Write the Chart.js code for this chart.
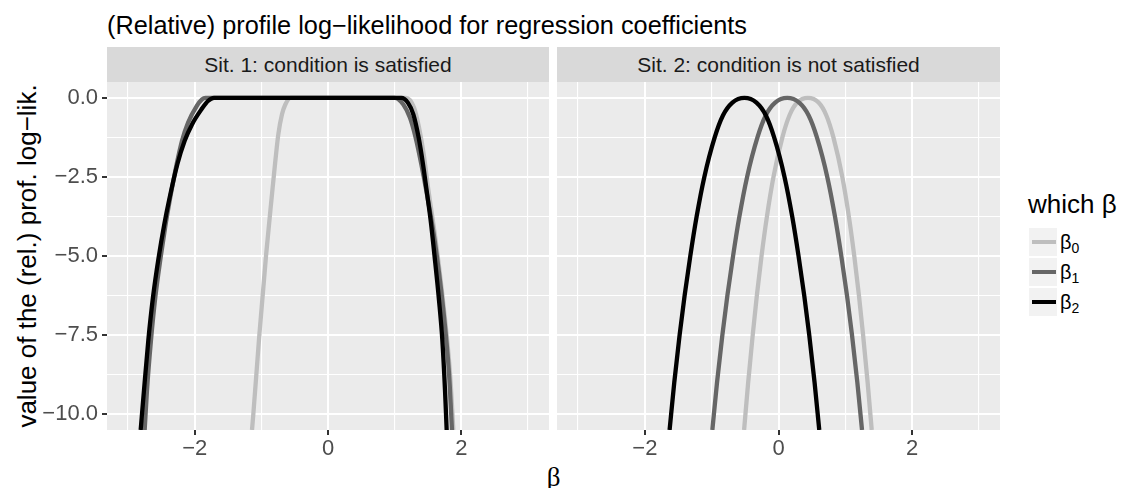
<!DOCTYPE html>
<html><head><meta charset="utf-8">
<script src="https://cdn.jsdelivr.net/npm/chart.js@4.4.0/dist/chart.umd.min.js"></script>
<style>
html,body{margin:0;padding:0;background:#fff;width:1121px;height:488px;overflow:hidden;font-family:"Liberation Sans",Arial,sans-serif;}
.abs{position:absolute;}
#title{left:107px;top:13px;font-size:25.3px;line-height:25px;color:#000;white-space:nowrap;}
.strip{background:#D9D9D9;color:#1A1A1A;font-size:21px;height:35px;line-height:35px;text-align:center;top:47px;white-space:nowrap;}
#ytitle{left:-183.5px;top:243px;width:420px;height:26px;line-height:26px;font-size:26px;text-align:center;transform:rotate(-90deg);white-space:nowrap;color:#000;}
#xtitle{left:353.5px;top:464px;width:400px;height:26px;line-height:26px;font-size:27px;text-align:center;font-family:"Liberation Serif","DejaVu Serif",serif;color:#000;}
#legtitle{left:1028px;top:191px;font-size:26px;line-height:26px;white-space:nowrap;color:#000;}
.key{left:1029px;width:28px;height:28px;background:#F2F2F2;}
.key div{position:absolute;left:3px;top:12px;width:24px;height:4px;}
.klab{left:1060px;height:28px;line-height:28px;font-size:20px;color:#000;white-space:nowrap;}
.klab sub{font-size:14px;vertical-align:-4px;line-height:0;}
canvas{position:absolute;}
</style></head>
<body>
<div id="title" class="abs">(Relative) profile log−likelihood for regression coefficients</div>
<div class="abs strip" style="left:107px;width:442px;">Sit. 1: condition is satisfied</div>
<div class="abs strip" style="left:557px;width:443px;">Sit. 2: condition is not satisfied</div>
<div id="ytitle" class="abs">value of the (rel.) prof. log−lik.</div>
<div id="xtitle" class="abs">β</div>
<div id="legtitle" class="abs">which β</div>
<div id="legend"></div>
<canvas id="c1" width="553" height="438" style="left:0;top:50px;"></canvas>
<canvas id="c2" width="451" height="438" style="left:553px;top:50px;"></canvas>
<script>
// ---- data ----
const seriesNames = ['β0', 'β1', 'β2'];
const seriesColors = ['#BEBEBE', '#666666', '#000000'];

// Sit. 1: condition is satisfied
const sit1_b0_x = [-1.14, -1.12, -1.03, -0.93, -0.845, -0.795, -0.745, -0.69, -0.64, -0.56, 1.17, 1.29, 1.365, 1.435, 1.50, 1.615, 1.735, 1.83, 1.88];
const sit1_b0_y = [-10.5, -10, -7.5, -5, -3.15, -2.1, -1.15, -0.52, -0.21, 0, 0, -0.31, -0.94, -1.78, -2.83, -4.51, -6.61, -8.71, -10.5];
const sit1_b1_x = [-2.75, -2.715, -2.655, -2.59, -2.51, -2.435, -2.375, -2.27, -2.19, -2.10, -1.97, -1.89, -1.84, 1.00, 1.13, 1.23, 1.315, 1.40, 1.475, 1.60, 1.725, 1.815, 1.86];
const sit1_b1_y = [-10.5, -9.24, -7.66, -6.30, -5.04, -3.99, -3.25, -2.10, -1.36, -0.79, -0.26, -0.05, 0, 0, -0.21, -0.63, -1.26, -2.10, -2.94, -4.51, -6.61, -8.71, -10.5];
const sit1_b2_x = [-2.81, -2.76, -2.695, -2.625, -2.54, -2.455, -2.385, -2.26, -2.15, -2.04, -1.90, -1.80, -1.71, 1.10, 1.20, 1.28, 1.36, 1.425, 1.48, 1.54, 1.60, 1.665, 1.715, 1.755, 1.78];
const sit1_b2_y = [-10.5, -9.24, -7.66, -6.30, -5.04, -3.99, -3.25, -2.10, -1.36, -0.84, -0.37, -0.10, 0, 0, -0.16, -0.52, -1.26, -2.10, -2.94, -3.88, -5.04, -6.40, -7.66, -9.24, -10.5];

// Sit. 2: condition is not satisfied
const sit2_y    = [-10.5, -9, -7.5, -6.25, -5, -3.75, -2.5, -1.25, -0.55, -0.15, 0, -0.15, -0.55, -1.25, -2.5, -3.75, -5, -6.25, -7.5, -9, -10.5];
const sit2_b0_x = [-0.515, -0.454, -0.386, -0.324, -0.254, -0.173, -0.075, 0.058, 0.165, 0.28, 0.44, 0.60, 0.715, 0.822, 0.955, 1.053, 1.134, 1.204, 1.266, 1.334, 1.395];
const sit2_b1_x = [-0.99, -0.92, -0.84, -0.765, -0.68, -0.585, -0.47, -0.315, -0.19, -0.05, 0.13, 0.31, 0.45, 0.575, 0.73, 0.845, 0.94, 1.025, 1.10, 1.18, 1.25];
const sit2_b2_x = [-1.63, -1.56, -1.48, -1.405, -1.32, -1.225, -1.11, -0.955, -0.83, -0.69, -0.51, -0.33, -0.19, -0.065, 0.09, 0.205, 0.30, 0.385, 0.46, 0.54, 0.61];

// axes
const xMin = -3.315, xMax = 3.315;
const yMin = -10.5, yMax = 0.5;
const xTicks = [-3, -2, -1, 0, 1, 2, 3];
const xTickLabels = ['', '−2', '', '0', '', '2', ''];
const yTicks = [-10, -8.75, -7.5, -6.25, -5, -3.75, -2.5, -1.25, 0];
const yTickLabels = ['−10.0', '', '−7.5', '', '−5.0', '', '−2.5', '', '0.0'];

// ---- legend (HTML) ----
const leg = document.getElementById('legend');
seriesNames.forEach((n, i) => {
  const top = 228 + i * 30;
  const k = document.createElement('div');
  k.className = 'abs key'; k.style.top = top + 'px';
  const ln = document.createElement('div'); ln.style.background = seriesColors[i];
  k.appendChild(ln); leg.appendChild(k);
  const l = document.createElement('div');
  l.className = 'abs klab'; l.style.top = top + 'px';
  l.innerHTML = n.charAt(0) + '<sub>' + n.slice(1) + '</sub>';
  leg.appendChild(l);
});

// ---- charts ----
const FONT = '"Liberation Sans", Arial, sans-serif';
const panelBg = {
  id: 'panelBg',
  beforeDraw(chart) {
    const a = chart.chartArea, c = chart.ctx;
    c.save(); c.fillStyle = '#EBEBEB';
    c.fillRect(a.left, a.top, a.right - a.left, a.bottom - a.top);
    c.restore();
  }
};
function ds(label, xs, ys, color, order) {
  return {
    label, data: xs.map((x, i) => ({x: x, y: ys[i]})),
    borderColor: color, backgroundColor: color, borderWidth: 4.3,
    pointRadius: 0, pointHoverRadius: 0, fill: false,
    cubicInterpolationMode: 'monotone', borderJoinStyle: 'round',
    order, clip: 0
  };
}
function xScale() {
  return {
    type: 'linear', min: xMin, max: xMax,
    afterBuildTicks: s => { s.ticks = xTicks.map(v => ({value: v})); },
    afterFit: s => { s.height = 58; },
    ticks: {
      callback: (v, i) => xTickLabels[i], autoSkip: false, maxRotation: 0, minRotation: 0,
      padding: 1, color: '#4D4D4D', font: {family: FONT, size: 22}
    },
    grid: {
      color: '#FFFFFF', lineWidth: c => (xTickLabels[c.index] ? 2 : 1.1),
      tickColor: c => (xTickLabels[c.index] ? '#333333' : 'rgba(0,0,0,0)'),
      tickLength: 5, tickWidth: 2, drawTicks: true
    },
    border: {display: false}
  };
}
function yScale(showLabels) {
  return {
    type: 'linear', min: yMin, max: yMax,
    afterBuildTicks: s => { s.ticks = yTicks.map(v => ({value: v})); },
    afterFit: s => { s.width = showLabels ? 107 : 0; },
    ticks: {
      display: showLabels,
      callback: (v, i) => yTickLabels[i], autoSkip: false,
      padding: 4, color: '#4D4D4D', font: {family: FONT, size: 22}
    },
    grid: {
      color: '#FFFFFF', lineWidth: c => (yTickLabels[c.index] ? 2 : 1.1),
      tickColor: c => (yTickLabels[c.index] ? '#333333' : 'rgba(0,0,0,0)'),
      tickLength: 5, tickWidth: 2, drawTicks: showLabels
    },
    border: {display: false}
  };
}
function makeChart(id, sets, showY, padLeft) {
  return new Chart(document.getElementById(id), {
    type: 'line',
    data: {datasets: sets},
    options: {
      responsive: false, animation: false, events: [], devicePixelRatio: 1,
      layout: {padding: {top: 32, left: padLeft, right: 4, bottom: 0}},
      plugins: {legend: {display: false}, tooltip: {enabled: false}},
      scales: {x: xScale(), y: yScale(showY)}
    },
    plugins: [panelBg]
  });
}
makeChart('c1', [
  ds(seriesNames[0], sit1_b0_x, sit1_b0_y, seriesColors[0], 3),
  ds(seriesNames[1], sit1_b1_x, sit1_b1_y, seriesColors[1], 2),
  ds(seriesNames[2], sit1_b2_x, sit1_b2_y, seriesColors[2], 1)
], true, 0);
makeChart('c2', [
  ds(seriesNames[0], sit2_b0_x, sit2_y, seriesColors[0], 3),
  ds(seriesNames[1], sit2_b1_x, sit2_y, seriesColors[1], 2),
  ds(seriesNames[2], sit2_b2_x, sit2_y, seriesColors[2], 1)
], false, 4);
</script>
</body></html>
